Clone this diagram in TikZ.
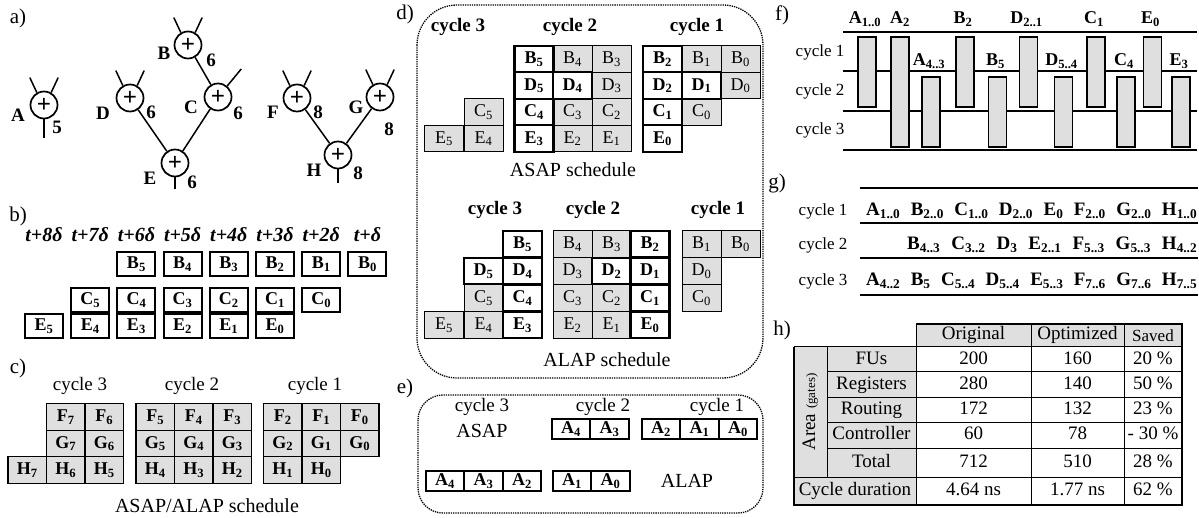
\documentclass[tikz,border=0pt]{standalone}
\usepackage{fontspec}
\setmainfont{Liberation Serif}
\usepackage{tikz}

\begin{document}
\begin{tikzpicture}[x=1pt, y=-1pt,
  panel/.style={font=\fontsize{21}{21}\selectfont},
  adder/.style={circle, draw, line width=1.7pt, minimum size=27pt, inner sep=0pt, font=\fontsize{25}{25}\selectfont\bfseries},
  oplbl/.style={font=\fontsize{19}{19}\selectfont\bfseries, inner sep=0pt},
  wire/.style={line width=1.5pt},
  tlbl/.style={font=\fontsize{20}{20}\selectfont\bfseries\itshape},
  bbox/.style={draw, line width=2pt, minimum width=38pt, minimum height=24pt, inner sep=0pt, font=\fontsize{18}{18}\selectfont\bfseries},
  ccell/.style={draw, line width=1.4pt, fill=gray!25, minimum width=38.5pt, minimum height=26.5pt, inner sep=0pt, font=\fontsize{18}{18}\selectfont\bfseries},
  gcell/.style={draw, line width=1pt, fill=gray!25, minimum width=39pt, minimum height=26.5pt, inner sep=0pt, font=\fontsize{18}{18}\selectfont},
  wcell/.style={gcell, fill=white, line width=2.2pt, font=\fontsize{18}{18}\selectfont\bfseries},
  ecell/.style={wcell, minimum width=38.5pt, minimum height=20pt},
  cyc/.style={font=\fontsize{19}{19}\selectfont},
  cycb/.style={font=\fontsize{19}{19}\selectfont\bfseries},
  caption/.style={font=\fontsize{20}{20}\selectfont},
  dotbox/.style={densely dotted, line width=1.3pt},
  fbar/.style={draw, fill=gray!25, line width=1.4pt, minimum width=18pt, minimum height=70pt, inner sep=0pt},
  flbl/.style={font=\fontsize{18}{18}\selectfont\bfseries, inner sep=0pt},
  rowlbl/.style={font=\fontsize{17}{17}\selectfont},
  tab/.style={font=\fontsize{19}{19}\selectfont, text height=13pt, text depth=4pt, inner sep=0pt},
]
  \useasboundingbox (0,0) rectangle (1199,518);

  \node[panel] (la) at (18,18) {a)};
  \node[adder] (A) at (44,105) {+};
  \node[adder] (B) at (188,45) {+};
  \node[adder] (C) at (218,97) {+};
  \node[adder] (D) at (130,98) {+};
  \node[adder] (E) at (175,163) {+};
  \node[adder] (F) at (297,98) {+};
  \node[adder] (G) at (380,97) {+};
  \node[adder] (H) at (338,155) {+};
  \foreach \n/\x/\y in {A/18/115, B/164/53, C/191/107, D/103/113, E/150/178, F/273/112, G/356/107, H/314/170}
    \node[oplbl] (\n-name) at (\x,\y) {\n};
  \foreach \n/\x/\y/\d in {A/57/127/5, B/211/60/6, C/238/113/6, D/151/112/6, E/192/182/6, F/318/112/8, G/389/129/8, H/358/173/8}
    \node[oplbl] (\n-bits) at (\x,\y) {\d};
  \foreach \n in {A,B,D,F,G} {
    \path (\n.120) ++(-7,-15) coordinate (\n-in1);
    \path (\n.60) ++(7,-15) coordinate (\n-in2);
    \draw[wire] (\n.120) -- (\n-in1);
    \draw[wire] (\n.60) -- (\n-in2);
  }
  \path (C.50) ++(14,-17) coordinate (C-in2);
  \draw[wire] (C.50) -- (C-in2);
  \foreach \n/\l in {A/19, E/12, H/14} {
    \path (\n.south) ++(0,\l) coordinate (\n-out);
    \draw[wire] (\n.south) -- (\n-out);
  }
  \draw[wire] (B) -- (C);
  \draw[wire] (D) -- (E);
  \draw[wire] (C) -- (E);
  \draw[wire] (F) -- (H);
  \draw[wire] (G) -- (H);

  \node[panel] (lb) at (18,216) {b)};
  \foreach \t [count=\k from 0] in {t+8δ, t+7δ, t+6δ, t+5δ, t+4δ, t+3δ, t+2δ, t+δ}
    \node[tlbl] (t\k) at ({44+46.2*\k},235) {\t};
  \foreach \s [count=\k from 2] in {5,4,3,2,1,0}
    \node[bbox] (bB\s) at ({44+46.2*\k},264) {B\textsubscript{\s}};
  \foreach \s [count=\k from 1] in {5,4,3,2,1,0}
    \node[bbox] (bC\s) at ({44+46.2*\k},300) {C\textsubscript{\s}};
  \foreach \s [count=\k from 0] in {5,4,3,2,1,0}
    \node[bbox] (bE\s) at ({44+46.2*\k},326) {E\textsubscript{\s}};

  \node[panel] (lc) at (18,368) {c)};
  \node[cyc] (c-cy3) at (80,386) {cycle 3};
  \node[cyc] (c-cy2) at (192,386) {cycle 2};
  \node[cyc] (c-cy1) at (315,386) {cycle 1};
  \foreach \x/\y/\a/\i in {65.75/417/F/7, 104.25/417/F/6, 65.75/443.5/G/7, 104.25/443.5/G/6,
      27.25/470/H/7, 65.75/470/H/6, 104.25/470/H/5,
      155.25/417/F/5, 193.75/417/F/4, 232.25/417/F/3, 155.25/443.5/G/5, 193.75/443.5/G/4, 232.25/443.5/G/3,
      155.25/470/H/4, 193.75/470/H/3, 232.25/470/H/2,
      282.75/417/F/2, 321.25/417/F/1, 359.75/417/F/0, 282.75/443.5/G/2, 321.25/443.5/G/1, 359.75/443.5/G/0,
      282.75/470/H/1, 321.25/470/H/0}
    \node[ccell] (c\a\i) at (\x,\y) {\a\textsubscript{\i}};
  \node[caption] (c-cap) at (207,506) {ASAP/ALAP schedule};

  \draw[dotbox, rounded corners=40pt] (417,5) rectangle (763,378);
  \node[panel] (ld) at (405,14) {d)};
  \node[cycb] (dS-cy3) at (458,27) {cycle 3};
  \node[cycb] (dS-cy2) at (570,27) {cycle 2};
  \node[cycb] (dS-cy1) at (697,27) {cycle 1};
  \foreach \x/\y/\a/\i in {483.5/112/C/5, 444/138.5/E/5, 483.5/138.5/E/4,
      572.5/59/B/4, 611.5/59/B/3, 611.5/85.5/D/3, 572.5/112/C/3, 611.5/112/C/2, 572.5/138.5/E/2, 611.5/138.5/E/1,
      701.5/59/B/1, 740.5/59/B/0, 740.5/85.5/D/0, 701.5/112/C/0}
    \node[gcell] (dS-\a\i) at (\x,\y) {\a\textsubscript{\i}};
  \foreach \x/\y/\a/\i in {534/59/B/5, 534/85.5/D/5, 572.5/85.5/D/4, 534/112/C/4, 534/138.5/E/3,
      662.5/59/B/2, 662.5/85.5/D/2, 701.5/85.5/D/1, 662.5/112/C/1, 662.5/138.5/E/0}
    \node[wcell] (dS-\a\i) at (\x,\y) {\a\textsubscript{\i}};
  \node[caption] (dS-cap) at (573,170) {ASAP schedule};
  \node[cycb] (dL-cy3) at (495,210) {cycle 3};
  \node[cycb] (dL-cy2) at (593,210) {cycle 2};
  \node[cycb] (dL-cy1) at (718,210) {cycle 1};
  \foreach \x/\y/\a/\i in {483.5/298/C/5, 444/325/E/5, 483.5/325/E/4,
      572.5/244/B/4, 611.5/244/B/3, 572.5/271/D/3, 572.5/298/C/3, 611.5/298/C/2, 572.5/325/E/2, 611.5/325/E/1,
      701.5/244/B/1, 740.5/244/B/0, 701.5/271/D/0, 701.5/298/C/0}
    \node[gcell] (dL-\a\i) at (\x,\y) {\a\textsubscript{\i}};
  \foreach \x/\y/\a/\i in {522.5/244/B/5, 483.5/271/D/5, 522.5/271/D/4, 522.5/298/C/4, 522.5/325/E/3,
      650/244/B/2, 611.5/271/D/2, 650/271/D/1, 650/298/C/1, 650/325/E/0}
    \node[wcell] (dL-\a\i) at (\x,\y) {\a\textsubscript{\i}};
  \node[caption] (dL-cap) at (607,360) {ALAP schedule};

  \draw[dotbox, rounded corners=25pt] (418,395) rectangle (763,513);
  \node[panel] (le) at (405,388) {e)};
  \node[cyc] (e-cy3) at (482,407) {cycle 3};
  \node[cyc] (e-cy2) at (603,407) {cycle 2};
  \node[cyc] (e-cy1) at (717,407) {cycle 1};
  \node[caption] (e-asap) at (482,431) {ASAP};
  \node[caption] (e-alap) at (687,481) {ALAP};
  \foreach \x/\i in {571/4, 609.5/3, 661/2, 699.5/1, 738/0}
    \node[ecell] (eS-A\i) at (\x,429) {A\textsubscript{\i}};
  \foreach \x/\i in {445/4, 483.5/3, 522/2, 572/1, 610.5/0}
    \node[ecell] (eL-A\i) at (\x,481) {A\textsubscript{\i}};

  \node[panel] (lf) at (782,15) {f)};
  \draw[line width=2pt] (843,32) -- (1197,32);
  \draw[line width=1.3pt] (843,71) -- (1197,71);
  \draw[line width=1.3pt] (843,111) -- (1197,111);
  \draw[line width=2pt] (843,150) -- (1197,150);
  \node[rowlbl] (f-cy1) at (820,52) {cycle 1};
  \node[rowlbl] (f-cy2) at (820,91) {cycle 2};
  \node[rowlbl] (f-cy3) at (820,130) {cycle 3};
  \foreach \n/\x/\y/\a/\i/\ly in {A10/867/72/A/1..0/24, A43/931/112/A/4..3/66, B2/965/72/B/2/24, B5/997.5/112/B/5/66,
      D21/1028.5/72/D/2..1/24, D54/1063.5/112/D/5..4/66, C1/1096/72/C/1/24, C4/1126/112/C/4/66,
      E0/1152.5/72/E/0/24, E3/1181/112/E/3/66} {
    \node[fbar] (f\n) at (\x,\y) {};
    \node[flbl, anchor=base] (f\n-l) at ({\x-2},\ly) {\a\textsubscript{\i}};
  }
  \node[fbar, minimum height=110pt] (fA2) at (900,92) {};
  \node[flbl, anchor=base] (fA2-l) at (900,24) {A\textsubscript{2}};

  \node[panel] (lg) at (777,183) {g)};
  \foreach \y in {188,223,258,295}
    \draw[line width=2pt] (860,\y) -- (1198,\y);
  \node[rowlbl, anchor=base] (g-cy1) at (823,216) {cycle 1};
  \node[rowlbl, anchor=base] (g-cy2) at (823,250) {cycle 2};
  \node[rowlbl, anchor=base] (g-cy3) at (823,286) {cycle 3};
  \node[flbl, font=\fontsize{19}{19}\selectfont\bfseries, anchor=base west] (g-r1) at (866,216)
    {\makebox[331pt][s]{A\textsubscript{1..0} B\textsubscript{2..0} C\textsubscript{1..0} D\textsubscript{2..0} E\textsubscript{0} F\textsubscript{2..0} G\textsubscript{2..0} H\textsubscript{1..0}}};
  \node[flbl, font=\fontsize{19}{19}\selectfont\bfseries, anchor=base west] (g-r2) at (907,250)
    {\makebox[290pt][s]{B\textsubscript{4..3} C\textsubscript{3..2} D\textsubscript{3} E\textsubscript{2..1} F\textsubscript{5..3} G\textsubscript{5..3} H\textsubscript{4..2}}};
  \node[flbl, font=\fontsize{19}{19}\selectfont\bfseries, anchor=base west] (g-r3) at (866,286)
    {\makebox[331pt][s]{A\textsubscript{4..2} B\textsubscript{5} C\textsubscript{5..4} D\textsubscript{5..4} E\textsubscript{5..3} F\textsubscript{7..6} G\textsubscript{7..6} H\textsubscript{7..5}}};

  \node[panel] (lh) at (782,330) {h)};
  \fill[gray!25] (916,324) rectangle (1182,347);
  \fill[gray!25] (794,347) rectangle (916,505);
  \draw[line width=1pt] (794,347) -- (1182,347);
  \foreach \y in {372,397,422,448}
    \draw[line width=1pt] (827,\y) -- (1182,\y);
  \draw[line width=1pt] (794,477) -- (1182,477);
  \draw[line width=1pt] (827,347) -- (827,477);
  \foreach \x in {916,1031,1124}
    \draw[line width=1pt] (\x,324) -- (\x,505);
  \draw[line width=1.5pt] (916,324) -- (1182,324) -- (1182,505) -- (794,505) -- (794,347);
  \node[tab] (h-orig) at (973.5,335.5) {Original};
  \node[tab] (h-opt) at (1077.5,335.5) {Optimized};
  \node[tab, font=\fontsize{17}{17}\selectfont] (h-saved) at (1153,337) {Saved};
  \foreach \y/\r/\o/\p/\s [count=\i] in {359.5/FUs/200/160/20 \%, 384.5/Registers/280/140/50 \%,
      409.5/Routing/172/132/23 \%, 435/Controller/60/78/- 30 \%, 462.5/Total/712/510/28 \%} {
    \node[tab] (hr\i) at (871.5,\y) {\r};
    \node[tab] (ho\i) at (973.5,\y) {\o};
    \node[tab] (hp\i) at (1077.5,\y) {\p};
    \node[tab] (hs\i) at (1153,\y) {\s};
  }
  \node[tab, rotate=90] (h-area) at (810.5,412) {Area {\fontsize{13}{13}\selectfont(gates)}};
  \node[tab] (h-cd) at (855,491) {Cycle duration};
  \node[tab] (h-cdo) at (973.5,491) {4.64 ns};
  \node[tab] (h-cdp) at (1077.5,491) {1.77 ns};
  \node[tab] (h-cds) at (1153,491) {62 \%};

\end{tikzpicture}
\end{document}
